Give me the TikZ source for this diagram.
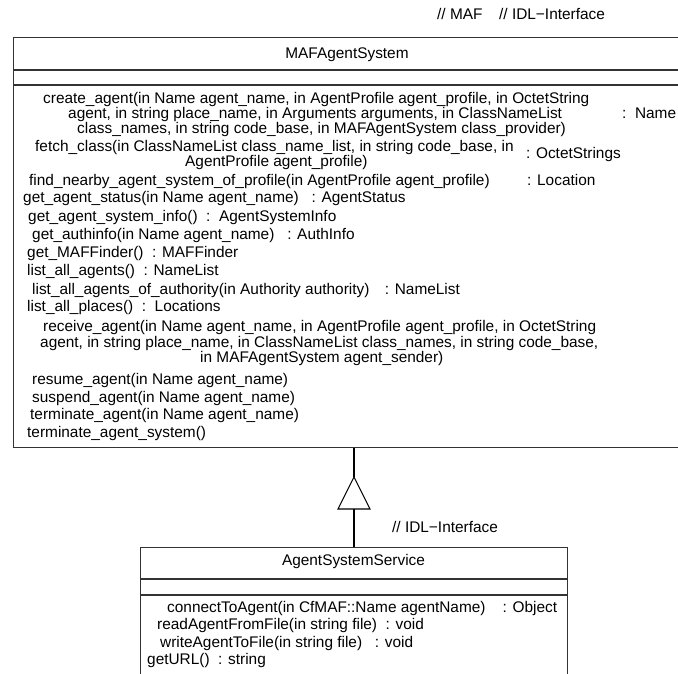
\documentclass[tikz,border=0pt]{standalone}
\usepackage{fontspec}
\setmainfont{Liberation Sans}
\newcommand\umlfont{\fontsize{15.4}{15.4}\selectfont}
\tikzset{
  frame/.style={draw=black!80, line width=1.4pt},
  sep/.style={draw=black!80, line width=1.2pt},
  op/.style={anchor=base west, inner sep=0pt, font=\umlfont},
  ctr/.style={anchor=base, inner sep=0pt, font=\umlfont},
  gen/.style={draw=black, line width=1.1pt},
}
\begin{document}
\begin{tikzpicture}[x=1pt, y=-1pt]
\useasboundingbox (0,0) rectangle (678,673);
\clip (0,0) rectangle (678,673);

% stereotype notes above the top class
\node[op] (nmaf) at (437,19) {// MAF};
\node[op] (nidl) at (499,19) {// IDL−Interface};

% ---- class MAFAgentSystem ----
\node[frame, anchor=north west, minimum width=668pt, minimum height=410pt, inner sep=0pt] (maf) at (13,37) {};
\draw[sep] (13,70) -- (681,70);
\draw[sep] (13,85) -- (681,85);
\node[ctr] (maftitle) at (347,58) {MAFAgentSystem};

\node[op] (o1a) at (43,103) {create\_agent(in Name agent\_name, in AgentProfile agent\_profile, in OctetString};
\node[op] (o1b) at (68,118) {agent, in string place\_name, in Arguments arguments, in ClassNameList};
\node[op] (o1c) at (77,133) {class\_names, in string code\_base, in MAFAgentSystem class\_provider)};
\node[op] (r1)  at (622,118) {:\ \ Name};
\node[op] (o2a) at (35,151) {fetch\_class(in ClassNameList class\_name\_list, in string code\_base, in};
\node[op] (o2b) at (185,166) {AgentProfile agent\_profile)};
\path (o2a.base east) ++(12,7) node[op] (r2) {: OctetStrings};
\node[op] (o3)  at (29,185) {find\_nearby\_agent\_system\_of\_profile(in AgentProfile agent\_profile)};
\node[op] (r3)  at (527,185) {: Location};
\node[op] (o4)  at (23,202) {get\_agent\_status(in Name agent\_name)\ \ \ : AgentStatus};
\node[op] (o5)  at (28,221) {get\_agent\_system\_info()\ \ :\ \ AgentSystemInfo};
\node[op] (o6)  at (32,239) {get\_authinfo(in Name agent\_name)\ \ \ : AuthInfo};
\node[op] (o7)  at (27,257) {get\_MAFFinder()\ \ : MAFFinder};
\node[op] (o8)  at (27,275) {list\_all\_agents()\ \ : NameList};
\node[op] (o9)  at (32,294) {list\_all\_agents\_of\_authority(in Authority authority)};
\path (o9.base east) ++(15,0) node[op] (r9) {: NameList};
\node[op] (o10) at (27,311) {list\_all\_places()\ \ :\ \ Locations};
\node[op] (o11a) at (43,331) {receive\_agent(in Name agent\_name, in AgentProfile agent\_profile, in OctetString};
\node[op] (o11b) at (40,347) {agent, in string place\_name, in ClassNameList class\_names, in string code\_base,};
\node[op] (o11c) at (200,362) {in MAFAgentSystem agent\_sender)};
\node[op] (o12) at (32,384) {resume\_agent(in Name agent\_name)};
\node[op] (o13) at (32,402) {suspend\_agent(in Name agent\_name)};
\node[op] (o14) at (30,419) {terminate\_agent(in Name agent\_name)};
\node[op] (o15) at (27,437) {terminate\_agent\_system()};

% ---- class AgentSystemService ----
\node[frame, anchor=north west, minimum width=427pt, minimum height=160pt, inner sep=0pt] (svc) at (140,547) {};
\draw[sep] (140,579) -- (567,579);
\draw[sep] (140,595) -- (567,595);
\node[ctr] (svctitle) at (353.5,565) {AgentSystemService};
\node[op] (nidl2) at (392,532) {// IDL−Interface};

\node[op] (s1) at (167,612) {connectToAgent(in CfMAF::Name agentName)\ \ \ \ : Object};
\node[op] (s2) at (157,629) {readAgentFromFile(in string file)\ \ : void};
\node[op] (s3) at (160,647) {writeAgentToFile(in string file)\ \ \ : void};
\node[op] (s4) at (147,664) {getURL()\ \ : string};

% ---- generalization: AgentSystemService inherits MAFAgentSystem ----
\coordinate (apex) at (354,477);
\coordinate (base) at (354,509);
\draw[gen] (maf.south -| apex) -- (apex);
\draw[gen, line join=miter] (apex) -- ++(-16,32) -- ++(32,0) -- cycle;
\draw[gen] (base) -- (svc.north -| base);
\end{tikzpicture}
\end{document}
